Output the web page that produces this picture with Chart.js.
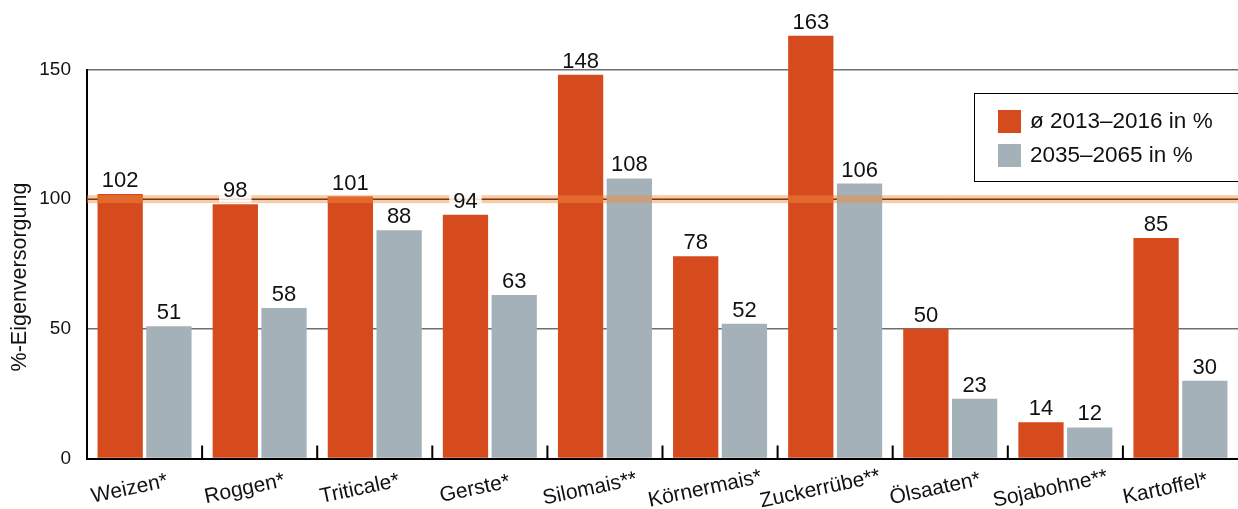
<!DOCTYPE html>
<html>
<head>
<meta charset="utf-8">
<script src="https://cdn.jsdelivr.net/npm/chart.js@4"></script>
<style>
html,body{margin:0;padding:0;background:#fff;}
#wrap{width:1238px;height:509px;position:relative;}
</style>
</head>
<body>
<div id="wrap"><canvas id="c" width="1238" height="509"></canvas></div>
<script>
const categories = ["Weizen*", "Roggen*", "Triticale*", "Gerste*", "Silomais**", "Körnermais*", "Zuckerrübe**", "Ölsaaten*", "Sojabohne**", "Kartoffel*"];
const seriesNames = ["ø 2013–2016 in %", "2035–2065 in %"];
const values2013 = [102, 98, 101, 94, 148, 78, 163, 50, 14, 85];
const values2035 = [51, 58, 88, 63, 108, 52, 106, 23, 12, 30];
const yTicks = [0, 50, 100, 150];
const referenceValue = 100;
const yTitle = "%-Eigenversorgung";

const ORANGE = "#D54B1E";
const GRAY = "#A5B1B8";
const FONT = "'Liberation Sans', Arial, Helvetica, sans-serif";

const refLinePlugin = {
  id: 'refLine',
  beforeDatasetsDraw(chart) {
    const {ctx, chartArea, scales} = chart;
    const y = scales.y.getPixelForValue(referenceValue);
    ctx.save();
    ctx.fillStyle = 'rgba(245,140,60,0.45)';
    ctx.fillRect(chartArea.left, y - 4, chartArea.right - chartArea.left, 8);
    ctx.strokeStyle = 'rgba(110,45,15,0.9)';
    ctx.lineWidth = 1;
    ctx.beginPath();
    ctx.moveTo(chartArea.left, Math.round(y) + 0.5);
    ctx.lineTo(chartArea.right, Math.round(y) + 0.5);
    ctx.stroke();
    ctx.restore();
  },
  afterDatasetsDraw(chart) {
    const {ctx, chartArea, scales} = chart;
    const y = scales.y.getPixelForValue(referenceValue);
    const bandTop = y - 4, bandBot = y + 4;
    ctx.save();
    // translucent band over the bars
    chart.data.datasets.forEach((ds, di) => {
      chart.getDatasetMeta(di).data.forEach(bar => {
        const top = Math.max(bar.y, bandTop);
        if (top < bandBot) {
          ctx.fillStyle = 'rgba(245,140,60,0.45)';
          ctx.fillRect(bar.x - bar.width / 2, top, bar.width, bandBot - top);
        }
      });
    });
    // tick marks between categories
    const xs = scales.x;
    const n = categories.length;
    const step = (xs.right - xs.left) / n;
    ctx.strokeStyle = '#000';
    ctx.lineWidth = 2;
    for (let i = 1; i < n; i++) {
      const x = xs.left + step * i;
      ctx.beginPath();
      ctx.moveTo(x, chartArea.bottom);
      ctx.lineTo(x, chartArea.bottom - 13);
      ctx.stroke();
    }
    // value labels
    ctx.font = '22px ' + FONT;
    ctx.textAlign = 'center';
    ctx.textBaseline = 'alphabetic';
    chart.data.datasets.forEach((ds, di) => {
      chart.getDatasetMeta(di).data.forEach((bar, i) => {
        const txt = String(ds.data[i]);
        const w = ctx.measureText(txt).width;
        const base = bar.y - 7;
        const bt = Math.max(base - 18, bandTop), bb = Math.min(base + 5, bandBot);
        if (bt < bb) {
          ctx.fillStyle = 'rgba(255,255,255,0.85)';
          ctx.fillRect(bar.x - w / 2 - 4, bt, w + 8, bb - bt);
        }
        ctx.fillStyle = '#111';
        ctx.fillText(txt, bar.x, base);
      });
    });
    // category labels (rotated)
    ctx.font = '21px ' + FONT;
    ctx.fillStyle = '#111';
    ctx.textAlign = 'center';
    ctx.textBaseline = 'middle';
    const ang = -12 * Math.PI / 180;
    categories.forEach((lab, i) => {
      const w = ctx.measureText(lab).width * Math.cos(ang);
      let cx = xs.getPixelForValue(i) - 15;
      if (cx + w / 2 > chart.width - 6) cx = chart.width - 6 - w / 2;
      ctx.save();
      ctx.translate(cx, 489);
      ctx.rotate(ang);
      ctx.fillText(lab, 0, 0);
      ctx.restore();
    });
    // y title
    ctx.save();
    ctx.font = '21.5px ' + FONT;
    ctx.translate(20, 277);
    ctx.rotate(-Math.PI / 2);
    ctx.fillText(yTitle, 0, 0);
    ctx.restore();
    // legend
    const lx = 974.5, ly = 93.5;
    ctx.fillStyle = '#fff';
    ctx.fillRect(lx, ly, chart.width - lx + 10, 88);
    ctx.strokeStyle = '#000';
    ctx.lineWidth = 1;
    ctx.strokeRect(lx, ly, chart.width - lx + 10, 88);
    ctx.font = '22.5px ' + FONT;
    ctx.textAlign = 'left';
    ctx.textBaseline = 'middle';
    chart.data.datasets.forEach((ds, di) => {
      const sy = 110 + di * 34;
      ctx.fillStyle = ds.backgroundColor;
      ctx.fillRect(998, sy, 23, 23);
      ctx.fillStyle = '#111';
      ctx.fillText(ds.label, 1030, sy + 12);
    });
    ctx.restore();
  }
};

new Chart(document.getElementById('c'), {
  type: 'bar',
  data: {
    labels: categories,
    datasets: [
      {label: seriesNames[0], data: values2013, backgroundColor: ORANGE, categoryPercentage: 0.847, barPercentage: 0.929, clip: false},
      {label: seriesNames[1], data: values2035, backgroundColor: GRAY, categoryPercentage: 0.847, barPercentage: 0.929, clip: false}
    ]
  },
  options: {
    responsive: false,
    animation: false,
    layout: {padding: {top: 69.5, right: -6, left: 0, bottom: 0}},
    plugins: {legend: {display: false}, tooltip: {enabled: false}},
    scales: {
      x: {
        grid: {display: false},
        ticks: {display: false},
        border: {display: true, color: '#000', width: 2},
        afterFit(s) { s.height = 50.5; }
      },
      y: {
        min: 0, max: 150,
        afterBuildTicks(s) { s.ticks = yTicks.map(v => ({value: v})); },
        ticks: {font: {family: FONT, size: 19}, color: '#111', padding: 16},
        grid: {color: '#6f6f6f', lineWidth: 1.5, drawTicks: false},
        border: {display: true, color: '#000', width: 2},
        afterFit(s) { s.width = 87; }
      }
    }
  },
  plugins: [refLinePlugin]
});
</script>
</body>
</html>
